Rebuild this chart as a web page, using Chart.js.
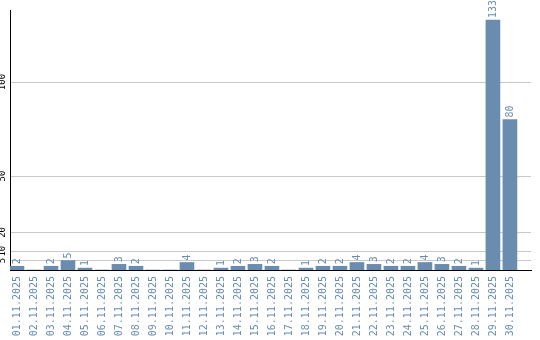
<!DOCTYPE html>
<html>
<head>
<meta charset="utf-8">
<script src="https://cdn.jsdelivr.net/npm/chart.js@4/dist/chart.umd.min.js"></script>
<style>
  html, body { margin: 0; padding: 0; background: #fff; }
  #wrap { width: 540px; height: 340px; position: relative; }
</style>
</head>
<body>
<div id="wrap"><canvas id="chart"></canvas></div>
<script>
// Daily counts, November 2025
const dates = [
    '01.11.2025', '02.11.2025', '03.11.2025', '04.11.2025', '05.11.2025',
    '06.11.2025', '07.11.2025', '08.11.2025', '09.11.2025', '10.11.2025',
    '11.11.2025', '12.11.2025', '13.11.2025', '14.11.2025', '15.11.2025',
    '16.11.2025', '17.11.2025', '18.11.2025', '19.11.2025', '20.11.2025',
    '21.11.2025', '22.11.2025', '23.11.2025', '24.11.2025', '25.11.2025',
    '26.11.2025', '27.11.2025', '28.11.2025', '29.11.2025', '30.11.2025'
];
const counts = [2, 0, 2, 5, 1, 0, 3, 2, 0, 0, 4, 0, 1, 2, 3, 2, 0, 1, 2, 2, 4, 3, 2, 2, 4, 3, 2, 1, 133, 80];
const yTicks = [5, 10, 20, 50, 100];

const barColor = '#6a8caf';
const monoFont = '"DejaVu Sans Mono", monospace';

// Draw the value above each bar, rotated
const valueLabels = {
    id: 'valueLabels',
    afterDatasetsDraw(chart) {
        const ctx = chart.ctx;
        const meta = chart.getDatasetMeta(0);
        ctx.save();
        ctx.fillStyle = barColor;
        ctx.font = '10px ' + monoFont;
        ctx.textAlign = 'left';
        ctx.textBaseline = 'middle';
        meta.data.forEach((bar, i) => {
            if (!counts[i]) return;
            ctx.save();
            ctx.translate(bar.x, bar.y - 2);
            ctx.rotate(-Math.PI / 2);
            ctx.fillText(String(counts[i]), 0, 0);
            ctx.restore();
        });
        ctx.restore();
    }
};

new Chart(document.getElementById('chart'), {
    type: 'bar',
    data: {
        datasets: [{
            data: counts.map((v, i) => ({ x: i + 1, y: v })),
            backgroundColor: barColor,
            borderWidth: 0,
            barThickness: 14
        }]
    },
    options: {
        responsive: true,
        maintainAspectRatio: false,
        animation: false,
        layout: { padding: { top: 10, right: 9, left: 0, bottom: 0 } },
        plugins: {
            legend: { display: false },
            tooltip: { enabled: false }
        },
        scales: {
            x: {
                type: 'linear',
                offset: false,
                min: 0.59,
                max: 31.24,
                grid: { display: false, drawTicks: false },
                border: { color: '#000', width: 1 },
                afterFit(scale) {
                    scale.height = 70;
                    scale.paddingLeft = 0;
                    scale.paddingRight = 0;
                },
                ticks: {
                    stepSize: 1,
                    includeBounds: false,
                    autoSkip: false,
                    minRotation: 90,
                    maxRotation: 90,
                    padding: 6,
                    color: barColor,
                    font: { family: monoFont, size: 10 },
                    callback: function(value) {
                        return dates[value - 1] || '';
                    }
                }
            },
            y: {
                min: 0,
                max: 138.3,
                grid: { color: '#c8c8c8', lineWidth: 1, drawTicks: false },
                border: { color: '#000', width: 1 },
                afterFit(scale) { scale.width = 10; },
                afterBuildTicks(scale) {
                    scale.ticks = yTicks.map(v => ({ value: v }));
                },
                ticks: {
                    minRotation: 90,
                    maxRotation: 90,
                    crossAlign: 'center',
                    padding: -1,
                    color: '#000',
                    font: { family: monoFont, size: 9 }
                }
            }
        }
    },
    plugins: [valueLabels]
});
</script>
</body>
</html>
